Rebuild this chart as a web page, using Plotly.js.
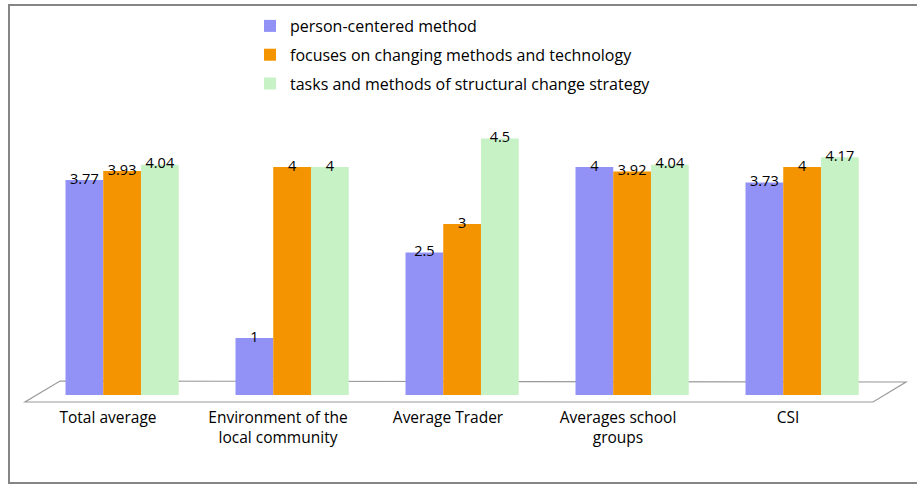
<!DOCTYPE html>
<html>
<head>
<meta charset="utf-8">
<script src="https://cdn.plot.ly/plotly-3.0.1.min.js"></script>
<style>html,body{margin:0;padding:0;background:#fff;}#chart{width:917px;height:485px;}</style>
</head>
<body>
<div id="chart"></div>
<script>
const categories = ["Total average", "Environment of the<br>local community", "Average Trader", "Averages school<br>groups", "CSI"];
const seriesNames = ["person-centered method", "focuses on changing methods and technology", "tasks and methods of structural change strategy"];
const personCentered = [3.77, 1, 2.5, 4, 3.73];
const changingMethods = [3.93, 4, 3, 3.92, 4];
const structuralChange = [4.04, 4, 4.5, 4.04, 4.17];

const seriesValues = [personCentered, changingMethods, structuralChange];
const colors = ["#9292F6", "#F39400", "#C6F2C6"];
const offsets = [-0.25, -0.028, 0.194];
const barWidth = 0.222;
const FONT = "Open Sans, Noto Sans, sans-serif";

const idx = categories.map((c, i) => i);
const traces = [];
seriesValues.forEach((vals, s) => {
  traces.push({
    type: "bar", name: seriesNames[s], x: idx, y: vals,
    offset: offsets[s], width: barWidth,
    marker: {color: colors[s]},
    legendgroup: "g" + s, hoverinfo: "skip"
  });
});
seriesValues.forEach((vals, s) => {
  traces.push({
    type: "scatter", mode: "text", x: idx.map(i => i + offsets[s] + barWidth / 2), y: vals,
    text: vals.map(v => String(v)), textposition: "middle center",
    textfont: {family: FONT, size: 14.5, color: "#000"},
    showlegend: false, cliponaxis: false, hoverinfo: "skip"
  });
});

// layout pixel geometry
const L = 23, R = 873, T = 110, B = 395, W = 917, H = 485;
const px = p => (p - L) / (R - L);
const py = p => (B - p) / (B - T);

const floorPath = "M" + px(60) + "," + py(381) + " L" + px(906) + "," + py(382) +
  " L" + px(873) + "," + py(402) + " L" + px(25) + "," + py(402) + " Z";

const layout = {
  width: W, height: H,
  margin: {l: L, r: W - R, t: T, b: H - B, pad: 0, autoexpand: false},
  paper_bgcolor: "#fff", plot_bgcolor: "rgba(0,0,0,0)",
  font: {family: FONT, size: 15.5, color: "#000"},
  barmode: "overlay",
  showlegend: true,
  legend: {
    x: px(250), y: py(9), xanchor: "left", yanchor: "top",
    traceorder: "grouped", tracegroupgap: 5,
    font: {family: FONT, size: 16, color: "#000"},
    bgcolor: "rgba(0,0,0,0)", itemwidth: 30
  },
  xaxis: {
    type: "linear", range: [-0.5, 4.5], tickvals: idx, ticktext: categories,
    showgrid: false, zeroline: false, showline: false, ticks: "",
    ticklabelstandoff: 11,
    tickfont: {family: FONT, size: 15.5, color: "#000"}, fixedrange: true
  },
  yaxis: {
    range: [0, 5], showgrid: false, zeroline: false, showline: false,
    showticklabels: false, ticks: "", fixedrange: true
  },
  shapes: [
    {type: "rect", xref: "paper", yref: "paper", layer: "below",
     x0: px(9), x1: px(925), y0: py(483), y1: py(5),
     line: {color: "#858585", width: 2}, fillcolor: "rgba(0,0,0,0)"},
    {type: "path", xref: "paper", yref: "paper", layer: "below",
     path: floorPath, line: {color: "#9a9a9a", width: 1.2}, fillcolor: "rgba(0,0,0,0)"}
  ]
};

Plotly.newPlot("chart", traces, layout, {displayModeBar: false, staticPlot: true});
</script>
</body>
</html>
